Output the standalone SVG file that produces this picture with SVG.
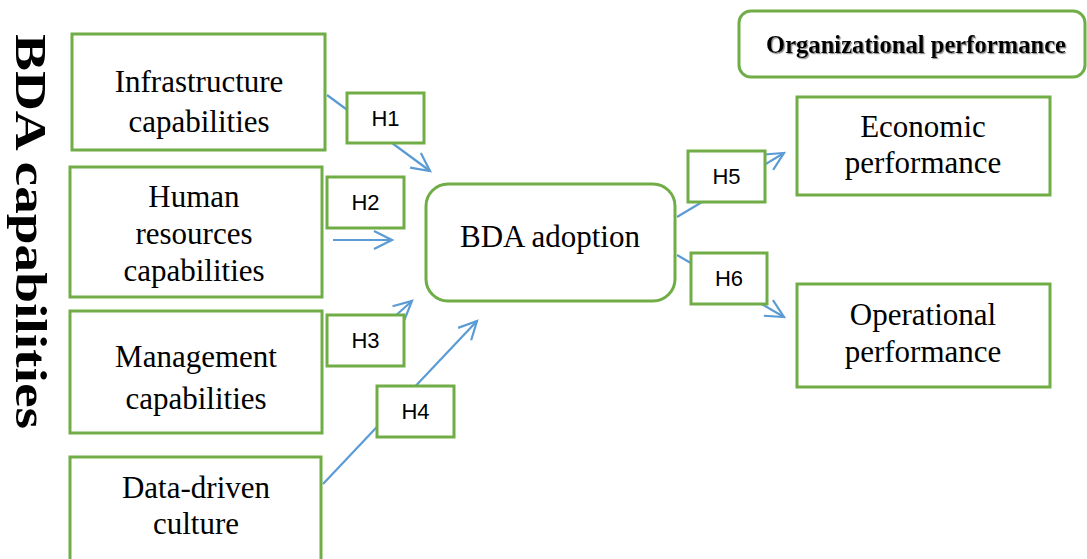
<svg xmlns="http://www.w3.org/2000/svg" width="1087" height="559" viewBox="0 0 1087 559">
<style>
.box{fill:#fff;stroke:#70AD47;stroke-width:3}
.lbl{fill:#fff;stroke:#70AD47;stroke-width:3}
.t{font-family:"Liberation Serif","Times New Roman",serif;font-size:31px;fill:#000;text-anchor:middle}
.h{font-family:"Liberation Sans",Arial,sans-serif;font-size:22px;fill:#000;text-anchor:middle}
.c{stroke:#5B9BD5;stroke-width:2.2;fill:none;marker-end:url(#ah)}
</style>
<defs>
<marker id="ah" markerUnits="userSpaceOnUse" markerWidth="30" markerHeight="30" refX="20" refY="10" viewBox="0 0 30 30" orient="auto" overflow="visible">
<path d="M2,1 L20,10 L2,19" fill="none" stroke="#5B9BD5" stroke-width="2.2"/>
</marker>
<filter id="sh" filterUnits="userSpaceOnUse" x="740" y="15" width="340" height="55">
<feDropShadow dx="1.2" dy="1.2" stdDeviation="0.6" flood-color="#777" flood-opacity="0.8"/>
</filter>
</defs>

<g id="title-bda-capabilities">
<text transform="translate(16,34) rotate(90)" font-family="'Liberation Serif','Times New Roman',serif" font-weight="bold" font-size="44" textLength="395" lengthAdjust="spacingAndGlyphs">BDA capabilities</text>
</g>

<g id="connectors">
<line class="c" x1="327" y1="95" x2="430" y2="171"/>
<line class="c" x1="333" y1="240" x2="392" y2="240"/>
<line class="c" x1="385" y1="325" x2="412" y2="301"/>
<line class="c" x1="323" y1="484" x2="477" y2="321"/>
<line class="c" x1="677" y1="217" x2="784" y2="153"/>
<line class="c" x1="677" y1="255" x2="784" y2="317"/>
</g>

<g id="node-infrastructure">
<rect class="box" x="72" y="34" width="253" height="116"/>
<text class="t" x="199" y="92">Infrastructure</text>
<text class="t" x="199" y="132">capabilities</text>
</g>
<g id="node-human">
<rect class="box" x="70" y="167" width="252" height="130"/>
<text class="t" x="194" y="207">Human</text>
<text class="t" x="194" y="244">resources</text>
<text class="t" x="194" y="281">capabilities</text>
</g>
<g id="node-management">
<rect class="box" x="70" y="311" width="252" height="122"/>
<text class="t" x="196" y="367">Management</text>
<text class="t" x="196" y="409">capabilities</text>
</g>
<g id="node-datadriven">
<rect class="box" x="70" y="457" width="251" height="110"/>
<text class="t" x="196" y="498">Data-driven</text>
<text class="t" x="196" y="534">culture</text>
</g>

<g id="node-bda-adoption">
<rect class="box" x="426" y="184" width="249" height="117" rx="22"/>
<text class="t" x="550" y="247">BDA adoption</text>
</g>

<g id="node-org-performance">
<rect class="box" x="739" y="11" width="346" height="66" rx="12"/>
<text x="916" y="53" font-family="'Liberation Serif','Times New Roman',serif" font-weight="bold" font-size="26" text-anchor="middle" textLength="300" lengthAdjust="spacingAndGlyphs" filter="url(#sh)">Organizational performance</text>
</g>
<g id="node-economic">
<rect class="box" x="797" y="97" width="253" height="98"/>
<text class="t" x="923" y="137">Economic</text>
<text class="t" x="923" y="173">performance</text>
</g>
<g id="node-operational">
<rect class="box" x="797" y="284" width="253" height="103"/>
<text class="t" x="923" y="325">Operational</text>
<text class="t" x="923" y="362">performance</text>
</g>

<g id="label-h1"><rect class="lbl" x="347" y="93" width="77" height="50"/><text class="h" x="385.5" y="126">H1</text></g>
<g id="label-h2"><rect class="lbl" x="327" y="177" width="77" height="51"/><text class="h" x="365.5" y="210">H2</text></g>
<g id="label-h3"><rect class="lbl" x="327" y="315" width="77" height="51"/><text class="h" x="365.5" y="348">H3</text></g>
<g id="label-h4"><rect class="lbl" x="377" y="386" width="77" height="51"/><text class="h" x="415.5" y="419">H4</text></g>
<g id="label-h5"><rect class="lbl" x="688" y="151" width="77" height="51"/><text class="h" x="726.5" y="184">H5</text></g>
<g id="label-h6"><rect class="lbl" x="691" y="253" width="76" height="51"/><text class="h" x="729" y="286">H6</text></g>
</svg>
